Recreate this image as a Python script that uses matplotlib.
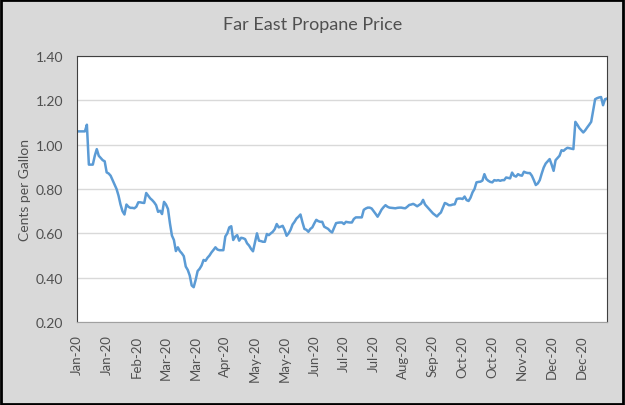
import matplotlib.pyplot as plt
import pandas as pd
from matplotlib.patches import Rectangle

# Far East propane, cents per gallon, one value per business day from 2 Jan 2020
prices = [
    1.06, 1.06, 1.06, 1.06, 1.06, 1.09, 0.91, 0.91, 0.91, 0.95,
    0.98, 0.95, 0.94, 0.93, 0.925, 0.875, 0.87, 0.86, 0.84, 0.82,
    0.80, 0.77, 0.73, 0.70, 0.685, 0.73, 0.72, 0.715, 0.715, 0.713,
    0.72, 0.74, 0.74, 0.738, 0.737, 0.782, 0.77, 0.758, 0.75, 0.74,
    0.727, 0.697, 0.702, 0.687, 0.742, 0.73, 0.71, 0.645, 0.59, 0.57,
    0.52, 0.537, 0.52, 0.51, 0.497, 0.45, 0.435, 0.41, 0.365, 0.357,
    0.39, 0.43, 0.44, 0.455, 0.48, 0.476, 0.49, 0.50, 0.514, 0.525,
    0.537, 0.527, 0.524, 0.524, 0.524, 0.586, 0.60, 0.627, 0.632, 0.57,
    0.585, 0.592, 0.567, 0.58, 0.578, 0.574, 0.555, 0.545, 0.53, 0.519,
    0.56, 0.60, 0.567, 0.565, 0.562, 0.562, 0.597, 0.592, 0.60, 0.607,
    0.619, 0.642, 0.627, 0.63, 0.634, 0.615, 0.589, 0.60, 0.616, 0.64,
    0.652, 0.667, 0.675, 0.685, 0.65, 0.62, 0.616, 0.607, 0.62, 0.627,
    0.645, 0.661, 0.655, 0.652, 0.652, 0.63, 0.625, 0.62, 0.61, 0.604,
    0.625, 0.646, 0.648, 0.649, 0.649, 0.642, 0.652, 0.65, 0.649, 0.649,
    0.665, 0.672, 0.672, 0.672, 0.672, 0.706, 0.712, 0.716, 0.716, 0.712,
    0.70, 0.688, 0.675, 0.69, 0.707, 0.718, 0.727, 0.72, 0.716, 0.715,
    0.714, 0.713, 0.715, 0.716, 0.716, 0.714, 0.713, 0.72, 0.728, 0.73,
    0.733, 0.728, 0.722, 0.728, 0.734, 0.751, 0.73, 0.72, 0.71, 0.70,
    0.69, 0.683, 0.676, 0.686, 0.694, 0.715, 0.737, 0.733, 0.727, 0.727,
    0.73, 0.731, 0.755, 0.757, 0.757, 0.755, 0.766, 0.75, 0.746, 0.761,
    0.785, 0.80, 0.83, 0.832, 0.833, 0.838, 0.867, 0.845, 0.837, 0.832,
    0.83, 0.84, 0.838, 0.84, 0.837, 0.84, 0.84, 0.852, 0.85, 0.848,
    0.874, 0.86, 0.856, 0.867, 0.862, 0.86, 0.878, 0.874, 0.872, 0.872,
    0.86, 0.84, 0.818, 0.825, 0.84, 0.87, 0.897, 0.915, 0.925, 0.935,
    0.91, 0.882, 0.93, 0.94, 0.95, 0.975, 0.972, 0.98, 0.986, 0.984,
    0.982, 0.98, 1.103, 1.09, 1.075, 1.065, 1.055, 1.065, 1.078, 1.09,
    1.103, 1.155, 1.205, 1.21, 1.213, 1.215, 1.178, 1.205, 1.208,
]
dates = pd.bdate_range('2020-01-02', periods=len(prices))
label_every = 15
y_ticks = [0.20, 0.40, 0.60, 0.80, 1.00, 1.20, 1.40]

text_col = '#505050'
fig = plt.figure(figsize=(6.25, 4.06), dpi=100, facecolor='#d9d9d9')
fig.patches.append(Rectangle((0.002, 0.003), 0.995, 0.994, transform=fig.transFigure,
                             fill=False, edgecolor='black', linewidth=2))
ax = fig.add_axes([0.1232, 0.2044, 0.8480, 0.6552])
ax.set_facecolor('white')

x = list(range(len(prices)))
ax.plot(x, prices, color='#5b9bd5', linewidth=1.8)

ax.set_xlim(0, len(prices) - 1)
ax.set_ylim(0.2, 1.4)
ax.set_yticks(y_ticks)
ax.set_yticklabels([f'{v:.2f}' for v in y_ticks], fontsize=10, color=text_col,
                   family='Lato')
tick_pos = x[::label_every]
ax.set_xticks(tick_pos)
ax.set_xticklabels([dates[i].strftime('%b-%y') for i in tick_pos], rotation=90,
                   fontsize=9.5, color=text_col, family='Lato')
ax.tick_params(axis='x', length=0, pad=9)
ax.tick_params(axis='y', length=0, pad=10)
ax.grid(axis='y', color='#d9d9d9', linewidth=1)
ax.set_axisbelow(True)
for side in ['left', 'top', 'right']:
    ax.spines[side].set_color('#404040')
ax.spines['bottom'].set_color('#a0a0a0')

ax.set_ylabel('Cents per Gallon', fontsize=10, color=text_col, family='Lato',
              labelpad=3)
fig.text(0.5, 0.938, 'Far East Propane Price', ha='center', va='center',
         fontsize=13, color=text_col, family='Lato')

plt.savefig('out.png', dpi=100, facecolor=fig.get_facecolor())
